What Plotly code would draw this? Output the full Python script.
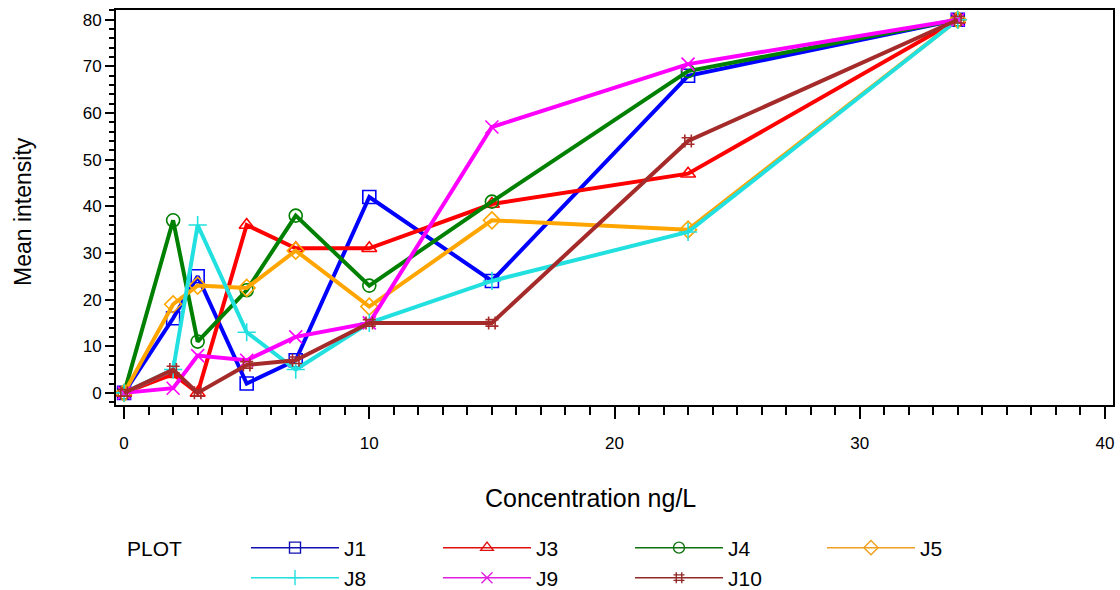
import plotly.graph_objects as go

# ---- data ----
conc = [0, 2, 3, 5, 7, 10, 15, 23, 34]
series_names = ["J1", "J3", "J4", "J5", "J8", "J9", "J10"]
j1 = [0, 16, 25, 2, 7, 42, 24, 68, 80]
j3 = [0, 4, 0, 36, 31, 31, 40.5, 47, 80]
j4 = [0, 37, 11, 22, 38, 23, 41, 69, 80]
j5 = [0, 19, 23, 22.5, 30.5, 18.5, 37, 35, 80]
j8 = [0, 5, 36, 13, 5, 15, 24, 34.5, 80]
j9 = [0, 1, 8, 7, 12, 15, 57, 70.5, 80]
j10 = [0, 5, 0, 6, 7, 15, 15, 54, 80]
x_tick_vals = [0, 10, 20, 30, 40]
y_tick_vals = [0, 10, 20, 30, 40, 50, 60, 70, 80]

values = [j1, j3, j4, j5, j8, j9, j10]
colors = ["#0000FF", "#FF0000", "#008000", "#FFA500", "#22E0E0", "#FF00FF", "#A52A2A"]
legend_colors = ["#1010B0", "#E01010", "#107010", "#F0A020", "#22E0E0", "#E020E0", "#902828"]
symbols = ["square-open", "triangle-up-open", "circle-open", "diamond-open",
           "cross-thin-open", "x-thin-open", "hash-open"]
legend_ids = ["legend", "legend", "legend", "legend", "legend2", "legend2", "legend2"]

fig = go.Figure()
for name, vals, col, sym in zip(series_names, values, colors, symbols):
    fig.add_trace(go.Scatter(
        x=conc, y=vals, name=name, mode="lines+markers", showlegend=False,
        line=dict(color=col, width=4),
        marker=dict(symbol=sym, size=13, color=col, line=dict(color=col, width=1.6)),
    ))

# legend-only entries (thin line + marker, as in the reference key)
for name, col, sym, lg in zip(series_names, legend_colors, symbols, legend_ids):
    fig.add_trace(go.Scatter(
        x=[None], y=[None], name=name, mode="lines+markers", legend=lg,
        line=dict(color=col, width=1.5),
        marker=dict(symbol=sym, size=11, color=col, line=dict(color=col, width=1.4)),
    ))

W, H = 1120, 590
tick_font = dict(family="Liberation Sans, Arial, sans-serif", size=17, color="#000")
text_font = dict(family="Liberation Sans, Arial, sans-serif", size=25, color="#000")
leg_font = dict(family="Liberation Sans, Arial, sans-serif", size=21, color="#000")

leg_common = dict(orientation="h", xanchor="left", yanchor="middle", itemwidth=88,
                  entrywidth=89, font=leg_font,
                  bgcolor="rgba(0,0,0,0)", borderwidth=0, tracegroupgap=0, itemclick=False,
                  xref="container", yref="container")

fig.update_layout(
    width=W, height=H,
    margin=dict(l=116, r=7, t=10, b=185, autoexpand=False),
    paper_bgcolor="white", plot_bgcolor="white",
    showlegend=True,
    legend=dict(x=246 / W, y=1 - 548 / H, **leg_common),
    legend2=dict(x=246 / W, y=1 - 578 / H, **leg_common),
    xaxis=dict(range=[-0.33, 40.33], tickvals=x_tick_vals, ticks="outside", ticklen=12,
               tickwidth=1.5, tickcolor="#000", showline=True, linecolor="#000", linewidth=1.8,
               mirror=True, showgrid=False, zeroline=False, tickfont=tick_font,
               ticklabelstandoff=10,
               minor=dict(dtick=1, tick0=0, ticks="outside", ticklen=8, tickwidth=1.5, tickcolor="#000")),
    yaxis=dict(range=[-2.6, 82.1], tickvals=y_tick_vals, ticks="outside", ticklen=9,
               tickwidth=1.5, tickcolor="#000", showline=True, linecolor="#000", linewidth=1.8,
               mirror=True, showgrid=False, zeroline=False, tickfont=tick_font,
               minor=dict(dtick=2, tick0=0, ticks="outside", ticklen=5, tickwidth=1.5, tickcolor="#000")),
    annotations=[
        dict(text="Concentration ng/L", xref="paper", yref="paper", x=(590 - 116) / 997,
             y=(405 - 498) / 395, xanchor="center", yanchor="middle", showarrow=False, font=text_font),
        dict(text="Mean intensity", xref="paper", yref="paper", x=(23 - 116) / 997,
             y=(405 - 212) / 395, xanchor="center", yanchor="middle", showarrow=False,
             textangle=-90, font=dict(family=text_font["family"], size=23, color="#000")),
        dict(text="PLOT", xref="paper", yref="paper", x=(125 - 116) / 997,
             y=(405 - 548) / 395, xanchor="left", yanchor="middle", showarrow=False,
             font=leg_font),
    ],
)

fig.write_html("out.html")
